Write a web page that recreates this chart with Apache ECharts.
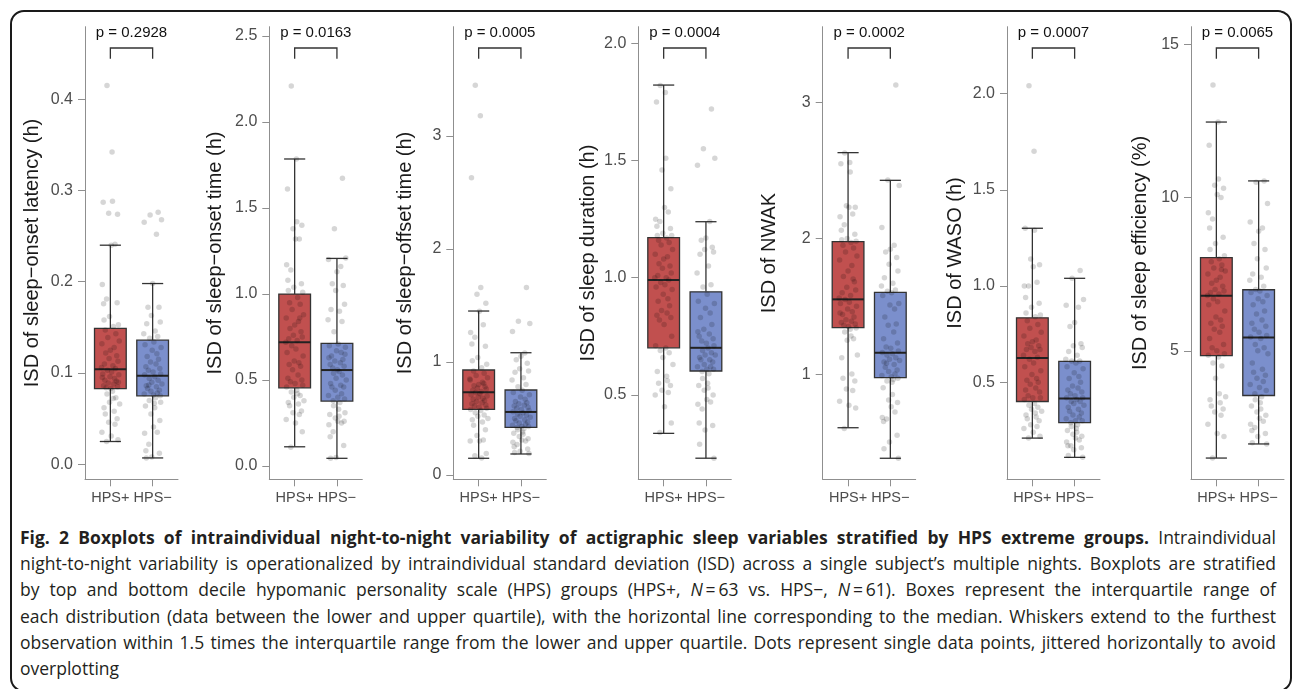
<!DOCTYPE html>
<html>
<head>
<meta charset="utf-8">
<script src="https://cdn.jsdelivr.net/npm/echarts@6/dist/echarts.min.js"></script>
<style>
  html, body { margin: 0; padding: 0; background: #fff; }
  #frame { position: absolute; left: 10px; top: 10px; width: 1282px; height: 682px; border: 2.5px solid #1a1a1a; border-radius: 14px; box-sizing: border-box; pointer-events: none; }
  #chart { position: absolute; left: 0; top: 0; width: 1293px; height: 515px; }
  #caption { position: absolute; left: 20px; top: 524px; width: 1256px; font-family: 'Open Sans', 'Noto Sans', sans-serif; font-size: 17.5px; line-height: 26.2px; color: #231f20; }
  #caption .ln { white-space: nowrap; }
  #caption .ln span { display: inline-block; transform-origin: 0 0; }
</style>
</head>
<body>
<div id="chart"></div>
<div id="caption">
  <div class="ln"><span><b>Fig. 2 Boxplots of intraindividual night-to-night variability of actigraphic sleep variables stratified by HPS extreme groups.</b> Intraindividual</span></div>
  <div class="ln"><span>night-to-night variability is operationalized by intraindividual standard deviation (ISD) across a single subject’s multiple nights. Boxplots are stratified</span></div>
  <div class="ln"><span>by top and bottom decile hypomanic personality scale (HPS) groups (HPS+, <i>N</i>&#8201;=&#8201;63 vs. HPS−, <i>N</i>&#8201;=&#8201;61). Boxes represent the interquartile range of</span></div>
  <div class="ln"><span>each distribution (data between the lower and upper quartile), with the horizontal line corresponding to the median. Whiskers extend to the furthest</span></div>
  <div class="ln"><span>observation within 1.5 times the interquartile range from the lower and upper quartile. Dots represent single data points, jittered horizontally to avoid</span></div>
  <div class="ln"><span>overplotting</span></div>
</div>
<div id="frame"></div>
<script>
// groups on the x axis
var GROUPS = ['HPS+', 'HPS−'];

// one entry per panel
var TITLES = ['ISD of sleep−onset latency (h)', 'ISD of sleep−onset time (h)', 'ISD of sleep−offset time (h)',
  'ISD of sleep duration (h)', 'ISD of NWAK', 'ISD of WASO (h)', 'ISD of sleep efficiency (%)'];
var P_VALUES = ['0.2928', '0.0163', '0.0005', '0.0004', '0.0002', '0.0007', '0.0065'];
var Y_MIN = [-0.0164, -0.077, -0.038, 0.140, 0.225, -0.004, 0.807];
var Y_MAX = [0.4793, 2.554, 3.967, 2.071, 3.560, 2.347, 15.57];
var Y_TICKS = [
  ['0.0', '0.1', '0.2', '0.3', '0.4'],
  ['0.0', '0.5', '1.0', '1.5', '2.0', '2.5'],
  ['0', '1', '2', '3'],
  ['0.5', '1.0', '1.5', '2.0'],
  ['1', '2', '3'],
  ['0.5', '1.0', '1.5', '2.0'],
  ['5', '10', '15']
];

// box stats: [lower whisker, Q1, median, Q3, upper whisker]
var BOX_POS = [
  [0.025, 0.083, 0.104, 0.149, 0.240],
  [0.112, 0.455, 0.719, 1.000, 1.785],
  [0.148, 0.581, 0.732, 0.929, 1.451],
  [0.336, 0.701, 0.990, 1.171, 1.822],
  [0.605, 1.342, 1.551, 1.976, 2.632],
  [0.210, 0.400, 0.626, 0.835, 1.300],
  [1.50, 4.84, 6.79, 8.04, 12.46]
];
var BOX_NEG = [
  [0.007, 0.075, 0.097, 0.136, 0.198],
  [0.045, 0.378, 0.558, 0.713, 1.207],
  [0.186, 0.422, 0.558, 0.752, 1.082],
  [0.230, 0.602, 0.701, 0.940, 1.239],
  [0.380, 0.974, 1.158, 1.603, 2.428],
  [0.110, 0.290, 0.416, 0.609, 1.040],
  [1.96, 3.54, 5.43, 6.99, 10.54]
];

// single subjects
var latencyPos = [0.415, 0.342, 0.287, 0.288, 0.275, 0.274, 0.240, 0.241, 0.197, 0.181, 0.176, 0.177, 0.162, 0.158, 0.153, 0.151,
  0.147, 0.143, 0.139, 0.135, 0.132, 0.128, 0.125, 0.122, 0.119, 0.116, 0.113, 0.110, 0.108, 0.106, 0.105,
  0.103, 0.101, 0.099, 0.098, 0.096, 0.094, 0.092, 0.091, 0.089, 0.088, 0.086, 0.085, 0.084, 0.083, 0.090, 0.095,
  0.080, 0.077, 0.073, 0.068, 0.066, 0.062, 0.058, 0.055, 0.050, 0.046, 0.044, 0.035, 0.031, 0.027, 0.025, 0.072];
var latencyNeg = [0.276, 0.273, 0.268, 0.265, 0.252, 0.198, 0.172, 0.172, 0.163, 0.156, 0.154, 0.146, 0.143, 0.140, 0.138,
  0.134, 0.131, 0.128, 0.125, 0.121, 0.118, 0.115, 0.112, 0.110, 0.107, 0.105, 0.103, 0.101, 0.099, 0.098,
  0.096, 0.094, 0.092, 0.090, 0.088, 0.086, 0.085, 0.083, 0.081, 0.080, 0.078, 0.077, 0.076, 0.075, 0.087,
  0.073, 0.070, 0.067, 0.064, 0.062, 0.055, 0.048, 0.041, 0.035, 0.034, 0.022, 0.015, 0.012, 0.008, 0.007, 0.068];
var onsetPos = [2.21, 1.785, 1.61, 1.42, 1.38, 1.40, 1.32, 1.32, 1.17, 1.14, 1.08, 1.06, 1.04, 1.02, 1.01,
  0.98, 0.95, 0.94, 0.91, 0.88, 0.86, 0.84, 0.82, 0.80, 0.78, 0.76, 0.75, 0.74, 0.73, 0.72, 0.86,
  0.70, 0.68, 0.66, 0.64, 0.61, 0.60, 0.59, 0.58, 0.56, 0.53, 0.51, 0.50, 0.49, 0.48, 0.47, 0.46,
  0.44, 0.43, 0.41, 0.40, 0.38, 0.37, 0.36, 0.35, 0.32, 0.31, 0.30, 0.27, 0.25, 0.20, 0.11, 0.42];
var onsetNeg = [1.673, 1.38, 1.21, 1.20, 1.16, 1.13, 1.06, 1.05, 1.02, 0.94, 0.91, 0.90, 0.85, 0.84, 0.78,
  0.71, 0.70, 0.69, 0.67, 0.66, 0.64, 0.62, 0.61, 0.60, 0.59, 0.58, 0.57, 0.56, 0.65, 0.63,
  0.55, 0.54, 0.53, 0.51, 0.50, 0.48, 0.47, 0.46, 0.46, 0.44, 0.42, 0.41, 0.40, 0.39, 0.38,
  0.37, 0.35, 0.33, 0.30, 0.29, 0.28, 0.26, 0.26, 0.25, 0.24, 0.20, 0.17, 0.12, 0.05, 0.045, 0.31];
var offsetPos = [3.45, 3.18, 2.63, 1.66, 1.60, 1.52, 1.45, 1.33, 1.26, 1.22, 1.16, 1.14, 1.04, 1.01, 0.98, 0.95,
  0.92, 0.90, 0.88, 0.86, 0.84, 0.82, 0.80, 0.79, 0.78, 0.77, 0.76, 0.75, 0.74, 0.85, 0.81,
  0.73, 0.72, 0.71, 0.70, 0.69, 0.68, 0.67, 0.66, 0.65, 0.64, 0.63, 0.62, 0.61, 0.60, 0.59, 0.58,
  0.57, 0.55, 0.53, 0.52, 0.50, 0.49, 0.47, 0.44, 0.40, 0.35, 0.31, 0.30, 0.30, 0.19, 0.17, 0.15];
var offsetNeg = [1.66, 1.36, 1.34, 1.27, 1.08, 1.05, 1.02, 0.99, 0.94, 0.92, 0.91, 0.86, 0.84, 0.80, 0.78,
  0.75, 0.73, 0.71, 0.69, 0.67, 0.65, 0.64, 0.63, 0.62, 0.61, 0.60, 0.59, 0.58, 0.57, 0.56,
  0.55, 0.54, 0.53, 0.52, 0.51, 0.50, 0.49, 0.48, 0.47, 0.46, 0.45, 0.44, 0.43, 0.43, 0.42,
  0.41, 0.40, 0.38, 0.37, 0.36, 0.34, 0.32, 0.31, 0.30, 0.29, 0.27, 0.25, 0.23, 0.21, 0.20, 0.19];
var durationPos = [1.82, 1.79, 1.75, 1.51, 1.46, 1.38, 1.30, 1.28, 1.25, 1.24, 1.22, 1.21, 1.19, 1.18, 1.18, 1.17,
  1.16, 1.15, 1.14, 1.12, 1.10, 1.09, 1.08, 1.06, 1.05, 1.04, 1.02, 1.01, 1.00, 1.00, 0.99,
  0.98, 0.97, 0.96, 0.95, 0.93, 0.91, 0.90, 0.88, 0.86, 0.85, 0.84, 0.83, 0.82, 0.80, 0.75, 0.71,
  0.70, 0.69, 0.68, 0.66, 0.63, 0.60, 0.56, 0.55, 0.54, 0.52, 0.51, 0.50, 0.45, 0.38, 0.34, 0.58];
var durationNeg = [1.72, 1.55, 1.51, 1.48, 1.24, 1.17, 1.16, 1.13, 1.12, 1.11, 1.10, 1.05, 1.02, 0.97, 0.96,
  0.93, 0.90, 0.89, 0.87, 0.85, 0.83, 0.80, 0.78, 0.76, 0.75, 0.74, 0.73, 0.72, 0.71, 0.77,
  0.70, 0.69, 0.68, 0.67, 0.67, 0.66, 0.65, 0.65, 0.64, 0.63, 0.62, 0.62, 0.61, 0.61, 0.60,
  0.59, 0.57, 0.55, 0.54, 0.53, 0.52, 0.50, 0.48, 0.47, 0.46, 0.44, 0.38, 0.37, 0.35, 0.29, 0.23];
var nwakPos = [2.63, 2.56, 2.55, 2.49, 2.24, 2.23, 2.23, 2.18, 2.16, 2.10, 2.06, 2.03, 2.00, 1.99, 1.98,
  1.97, 1.95, 1.93, 1.90, 1.87, 1.84, 1.80, 1.76, 1.72, 1.68, 1.64, 1.62, 1.60, 1.58, 1.56, 1.70,
  1.55, 1.53, 1.52, 1.50, 1.48, 1.46, 1.44, 1.42, 1.40, 1.39, 1.38, 1.37, 1.36, 1.35, 1.34, 1.45,
  1.33, 1.31, 1.26, 1.25, 1.14, 1.12, 1.00, 0.97, 0.95, 0.89, 0.88, 0.80, 0.77, 0.75, 0.60, 1.28];
var nwakNeg = [3.13, 2.43, 2.39, 2.08, 1.95, 1.92, 1.90, 1.86, 1.81, 1.76, 1.71, 1.67, 1.65, 1.62, 1.61,
  1.60, 1.58, 1.52, 1.51, 1.48, 1.42, 1.37, 1.36, 1.31, 1.26, 1.23, 1.20, 1.19, 1.17, 1.16,
  1.15, 1.14, 1.12, 1.11, 1.10, 1.09, 1.07, 1.05, 1.03, 1.02, 1.00, 0.99, 0.98, 0.97, 1.08,
  0.96, 0.95, 0.94, 0.90, 0.85, 0.81, 0.79, 0.76, 0.72, 0.68, 0.67, 0.65, 0.55, 0.50, 0.45, 0.38];
var wasoPos = [2.04, 1.70, 1.30, 1.29, 1.14, 1.11, 1.10, 1.02, 1.00, 1.00, 0.94, 0.91, 0.89, 0.86, 0.85, 0.84,
  0.82, 0.80, 0.78, 0.76, 0.74, 0.72, 0.71, 0.70, 0.69, 0.68, 0.67, 0.67, 0.66, 0.64, 0.63,
  0.62, 0.60, 0.58, 0.56, 0.54, 0.52, 0.51, 0.50, 0.49, 0.47, 0.46, 0.45, 0.43, 0.42, 0.42, 0.41,
  0.39, 0.38, 0.37, 0.36, 0.35, 0.33, 0.32, 0.31, 0.30, 0.28, 0.27, 0.26, 0.24, 0.22, 0.21, 0.34];
var wasoNeg = [1.08, 1.04, 0.93, 0.90, 0.89, 0.81, 0.79, 0.70, 0.69, 0.68, 0.66, 0.64, 0.62, 0.61, 0.61,
  0.60, 0.58, 0.57, 0.55, 0.53, 0.52, 0.50, 0.48, 0.47, 0.46, 0.45, 0.44, 0.43, 0.42, 0.42,
  0.41, 0.40, 0.40, 0.39, 0.38, 0.37, 0.36, 0.35, 0.34, 0.33, 0.32, 0.31, 0.30, 0.30, 0.29,
  0.28, 0.27, 0.26, 0.25, 0.24, 0.23, 0.22, 0.21, 0.20, 0.19, 0.17, 0.17, 0.16, 0.15, 0.12, 0.11];
var efficiencyPos = [13.67, 12.46, 11.7, 10.6, 10.4, 10.3, 10.1, 10.0, 9.5, 9.3, 9.0, 8.7, 8.5, 8.3, 8.1,
  8.0, 7.9, 7.8, 7.7, 7.6, 7.5, 7.4, 7.3, 7.2, 7.1, 7.0, 6.95, 6.9, 6.85, 6.8, 7.65,
  6.7, 6.6, 6.5, 6.3, 6.1, 6.0, 5.9, 5.8, 5.7, 5.6, 5.4, 5.2, 5.1, 5.0, 4.9, 4.85,
  4.8, 4.6, 4.5, 4.1, 3.5, 3.4, 3.3, 3.2, 3.1, 3.0, 2.9, 2.6, 2.3, 2.2, 1.5, 3.6];
var efficiencyNeg = [10.54, 10.5, 9.8, 9.2, 9.0, 8.9, 8.5, 8.3, 8.0, 7.7, 7.5, 7.4, 7.3, 7.1, 7.0,
  6.95, 6.9, 6.8, 6.7, 6.6, 6.5, 6.3, 6.2, 6.0, 5.9, 5.8, 5.7, 5.6, 5.5, 5.45,
  5.4, 5.2, 5.1, 5.0, 4.9, 4.6, 4.4, 4.3, 4.2, 4.1, 4.0, 3.9, 3.8, 3.7, 3.6,
  3.5, 3.4, 3.3, 3.2, 3.1, 3.0, 2.9, 2.8, 2.7, 2.6, 2.5, 2.4, 2.3, 2.2, 2.0, 1.96];

var POINTS_POS = [latencyPos, onsetPos, offsetPos, durationPos, nwakPos, wasoPos, efficiencyPos];
var POINTS_NEG = [latencyNeg, onsetNeg, offsetNeg, durationNeg, nwakNeg, wasoNeg, efficiencyNeg];

// horizontal jitter (category units), as in geom_jitter
var JITTER = [-0.08, 0.04, -0.17, 0.05, -0.04, 0.17, 0.02, 0.11, -0.19, -0.09,
  -0.16, 0.16, -0.02, -0.15, 0.19, 0.07, -0.12, 0.13, -0.06, 0.21,
  -0.20, 0.09, 0.00, -0.11, 0.15, -0.03, 0.18, -0.14, 0.06, -0.21,
  0.12, -0.07, 0.03, -0.18, 0.20, -0.01, 0.10, -0.13, 0.14, -0.05,
  0.08, -0.16, 0.17, -0.10, 0.01, 0.19, -0.19, 0.05, -0.08, 0.13,
  -0.02, 0.22, -0.15, 0.09, -0.12, 0.16, -0.04, 0.11, -0.20, 0.02,
  0.18, -0.09, 0.07];

// layout
var GRID_LEFT = [85, 269.3, 453.3, 638.3, 822.7, 1007, 1191];
var GRID_TOP = 26.7, GRID_W = 93, GRID_H = 452.6;
var NAME_GAP = [43, 44, 38, 40, 43, 42, 41];
var FONT = '"Liberation Sans", Arial, Helvetica, sans-serif';
var BOX_COLORS = ['#C1504F', '#7B8FCC'];
var INK = '#333333';
var AXIS_GRAY = '#8f8f8f';

var chart = echarts.init(document.getElementById('chart'), null, { renderer: 'canvas' });

function renderBox(params, api) {
  var x = api.value(0);
  var lo = api.coord([x, api.value(1)]);
  var q1 = api.coord([x, api.value(2)]);
  var md = api.coord([x, api.value(3)]);
  var q3 = api.coord([x, api.value(4)]);
  var hi = api.coord([x, api.value(5)]);
  var cx = lo[0];
  var half = api.size([0.75, 0])[0] / 2;
  var cap = api.size([0.5, 0])[0] / 2;
  var ln = { stroke: INK, lineWidth: 1.3 };
  return {
    type: 'group',
    children: [
      { type: 'line', shape: { x1: cx, y1: hi[1], x2: cx, y2: q3[1] }, style: ln },
      { type: 'line', shape: { x1: cx, y1: q1[1], x2: cx, y2: lo[1] }, style: ln },
      { type: 'line', shape: { x1: cx - cap, y1: hi[1], x2: cx + cap, y2: hi[1] }, style: ln },
      { type: 'line', shape: { x1: cx - cap, y1: lo[1], x2: cx + cap, y2: lo[1] }, style: ln },
      { type: 'rect', shape: { x: cx - half, y: q3[1], width: half * 2, height: q1[1] - q3[1] },
        style: { fill: BOX_COLORS[params.dataIndex], stroke: INK, lineWidth: 1.3 } },
      { type: 'line', shape: { x1: cx - half, y1: md[1], x2: cx + half, y2: md[1] }, style: { stroke: '#222', lineWidth: 2 } }
    ]
  };
}

function makeBracket(k) {
  return function (params, api) {
    var cs = params.coordSys;
    var a = api.coord([api.value(0), Y_MIN[k]])[0];
    var b = api.coord([api.value(1), Y_MIN[k]])[0];
    var yTop = cs.y + 21.3, yEnd = cs.y + 32;
    return {
      type: 'group',
      children: [
        { type: 'polyline', shape: { points: [[a, yEnd], [a, yTop], [b, yTop], [b, yEnd]] },
          style: { fill: 'none', stroke: INK, lineWidth: 1.3 } },
        { type: 'text', x: (a + b) / 2, y: cs.y + 6.5,
          style: { text: 'p = ' + P_VALUES[k], align: 'center', verticalAlign: 'middle', fill: '#111', font: '15px ' + FONT } }
      ]
    };
  };
}

var grids = [], xAxes = [], yAxes = [], series = [];
for (var k = 0; k < TITLES.length; k++) {
  var tickVals = Y_TICKS[k].map(Number);
  grids.push({ left: GRID_LEFT[k], top: GRID_TOP, width: GRID_W, height: GRID_H, containLabel: false, outerBoundsMode: 'none' });
  xAxes.push({
    gridIndex: k, type: 'value', min: 0.4, max: 2.6,
    axisLine: { show: true, onZero: false, lineStyle: { color: AXIS_GRAY, width: 1 } },
    axisTick: { show: true, customValues: [1, 2], length: 7, lineStyle: { color: AXIS_GRAY } },
    axisLabel: { customValues: [1, 2], formatter: function (v) { return GROUPS[Math.round(v) - 1]; },
      color: '#4d4d4d', fontSize: 14.5, fontFamily: FONT, margin: 11, hideOverlap: false },
    splitLine: { show: false }
  });
  yAxes.push({
    gridIndex: k, type: 'value', min: Y_MIN[k], max: Y_MAX[k],
    axisLine: { show: true, onZero: false, lineStyle: { color: AXIS_GRAY, width: 1 } },
    axisTick: { show: true, customValues: tickVals, length: 7, lineStyle: { color: AXIS_GRAY } },
    axisLabel: {
      customValues: tickVals,
      formatter: (function (labels, vals) {
        return function (v) {
          for (var i = 0; i < vals.length; i++) { if (Math.abs(vals[i] - v) < 1e-9) return labels[i]; }
          return '';
        };
      })(Y_TICKS[k], tickVals),
      color: '#4d4d4d', fontSize: 16, fontFamily: FONT, margin: 12
    },
    splitLine: { show: false },
    name: TITLES[k], nameLocation: 'middle', nameRotate: 90, nameGap: NAME_GAP[k], nameMoveOverlap: false,
    nameTextStyle: { fontSize: 20, color: '#1a1a1a', fontFamily: FONT }
  });

  series.push({
    type: 'custom', name: 'box' + k, xAxisIndex: k, yAxisIndex: k, renderItem: renderBox, z: 2, silent: true,
    data: [[1].concat(BOX_POS[k]), [2].concat(BOX_NEG[k])]
  });

  var pts = [];
  POINTS_POS[k].forEach(function (v, i) { pts.push([1 + JITTER[i % JITTER.length], v]); });
  POINTS_NEG[k].forEach(function (v, i) { pts.push([2 + JITTER[(i + 17) % JITTER.length], v]); });
  series.push({
    type: 'scatter', name: 'subjects' + k, xAxisIndex: k, yAxisIndex: k, z: 3, silent: true,
    symbolSize: 5.5, itemStyle: { color: 'rgba(0,0,0,0.2)' }, data: pts
  });

  series.push({
    type: 'custom', name: 'p' + k, xAxisIndex: k, yAxisIndex: k, renderItem: makeBracket(k), z: 4, silent: true,
    data: [[1, 2]]
  });
}

chart.setOption({
  animation: false,
  grid: grids,
  xAxis: xAxes,
  yAxis: yAxes,
  series: series
});

// justify caption lines to the column width
(function () {
  var target = 1256;
  var lines = document.querySelectorAll('#caption .ln');
  for (var i = 0; i < lines.length - 1; i++) {
    var span = lines[i].firstElementChild;
    var w = span.getBoundingClientRect().width;
    var spaces = (span.textContent.match(/ /g) || []).length;
    if (w < target) {
      span.style.wordSpacing = ((target - w) / spaces) + 'px';
    } else {
      span.style.transform = 'scaleX(' + (target / w) + ')';
    }
  }
})();
</script>
</body>
</html>
